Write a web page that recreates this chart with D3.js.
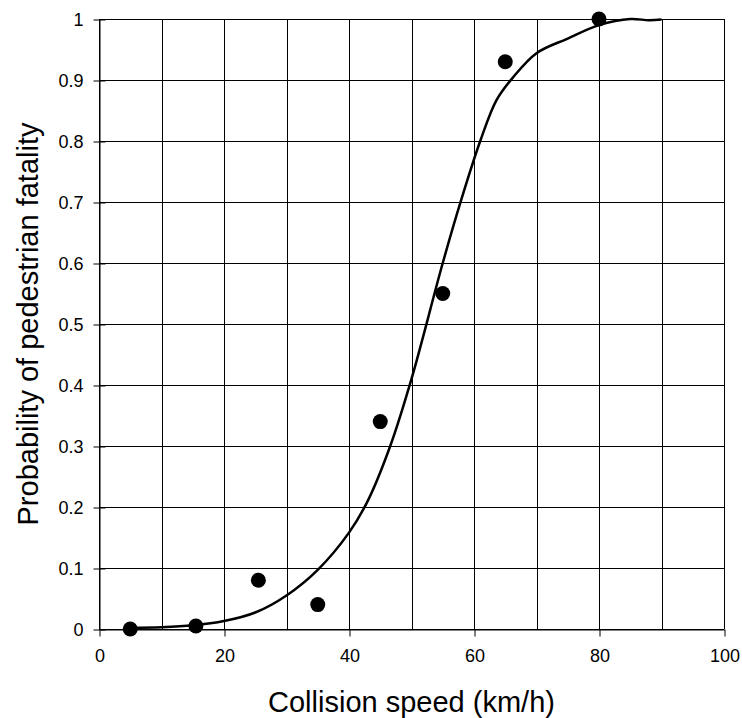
<!DOCTYPE html>
<html>
<head>
<meta charset="utf-8">
<script src="https://cdn.jsdelivr.net/npm/d3@7"></script>
<style>
  body { margin: 0; background: #fff; }
  text { font-family: "Liberation Sans", Arial, sans-serif; fill: #000; }
</style>
</head>
<body>
<div id="chart"></div>
<script>
// observed points (speed km/h, probability)
let obsSpeed = [5, 15.5, 25.5, 35, 45, 55, 65, 80];
let obsProb = [0, 0.005, 0.08, 0.04, 0.34, 0.55, 0.93, 1.0];

// fitted curve
let fitSpeed = [5, 10, 15, 20, 25, 30, 35, 40, 43, 46.6, 50, 55, 58, 61, 63.6, 66.3, 70, 75, 80, 85, 88, 90];
let fitProb = [0.002, 0.003, 0.006, 0.013, 0.027, 0.055, 0.097, 0.158, 0.21, 0.3, 0.41, 0.6, 0.705, 0.8, 0.867, 0.905, 0.944, 0.968, 0.99, 1.0, 0.998, 0.999];

let xTicks = [0, 20, 40, 60, 80, 100];
let xGrid = [0, 10, 20, 30, 40, 50, 60, 70, 80, 90, 100];
let yTicks = [0, 0.1, 0.2, 0.3, 0.4, 0.5, 0.6, 0.7, 0.8, 0.9, 1];

let width = 742, height = 718;

let svg = d3.select("#chart")
	.append("svg")
	.attr("width", width)
	.attr("height", height);

let x = d3.scaleLinear().domain([0, 100]).range([99, 724]);
let y = d3.scaleLinear().domain([0, 1]).range([629, 19]);

// gridlines
svg.append("g")
	.selectAll("line")
	.data(xGrid)
	.enter().append("line")
	.attr("x1", d => Math.round(x(d)) + 0.5)
	.attr("x2", d => Math.round(x(d)) + 0.5)
	.attr("y1", y(1))
	.attr("y2", y(0))
	.attr("stroke", "#000")
	.attr("stroke-width", 1);

svg.append("g")
	.selectAll("line")
	.data(yTicks)
	.enter().append("line")
	.attr("x1", x(0))
	.attr("x2", x(100))
	.attr("y1", d => Math.round(y(d)) + 0.5)
	.attr("y2", d => Math.round(y(d)) + 0.5)
	.attr("stroke", "#000")
	.attr("stroke-width", 1);

// y axis
let yAxis = svg.append("g")
	.attr("transform", "translate(" + (Math.round(x(0)) + 0.5) + ",0.5)")
	.call(d3.axisLeft(y).tickValues(yTicks).tickFormat(d3.format("~g")).tickSizeInner(6).tickSizeOuter(0).tickPadding(10));
yAxis.select(".domain").attr("stroke", "#000");
yAxis.selectAll(".tick line").attr("x2", 6).attr("x1", -6);
yAxis.selectAll("text").style("font-size", "18px");

// x axis
let xAxis = svg.append("g")
	.attr("transform", "translate(0.5," + (Math.round(y(0)) + 0.5) + ")")
	.call(d3.axisBottom(x).tickValues(xTicks).tickSizeInner(7).tickSizeOuter(0).tickPadding(13));
xAxis.select(".domain").attr("stroke", "#000");
xAxis.selectAll("text").style("font-size", "18px");

// fitted curve
let fit = fitSpeed.map((s, i) => [s, fitProb[i]]);
svg.append("path")
	.datum(fit)
	.attr("fill", "none")
	.attr("stroke", "#000")
	.attr("stroke-width", 2.5)
	.attr("d", d3.line()
		.x(d => x(d[0]))
		.y(d => y(d[1]))
		.curve(d3.curveCatmullRom.alpha(0.5)));

// observed dots
svg.append("g")
	.selectAll("circle")
	.data(obsSpeed)
	.enter().append("circle")
	.attr("cx", d => x(d))
	.attr("cy", (d, i) => y(obsProb[i]))
	.attr("r", 7.5)
	.attr("fill", "#000");

// axis titles
svg.append("text")
	.attr("x", (x(0) + x(100)) / 2)
	.attr("y", 712)
	.attr("text-anchor", "middle")
	.style("font-size", "29px")
	.text("Collision speed (km/h)");

svg.append("text")
	.attr("transform", "rotate(-90)")
	.attr("x", -324)
	.attr("y", 38)
	.attr("text-anchor", "middle")
	.style("font-size", "29px")
	.text("Probability of pedestrian fatality");
</script>
</body>
</html>
